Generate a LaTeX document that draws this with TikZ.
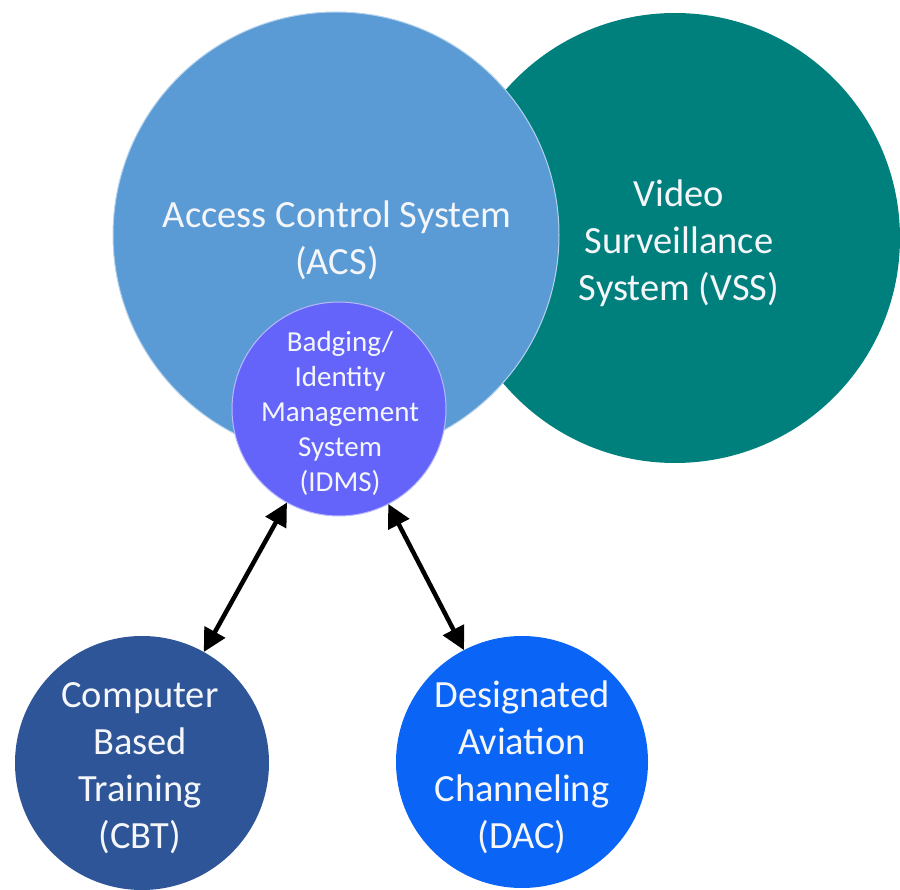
\documentclass[tikz,border=0pt]{standalone}
\usepackage{fontspec}
\setmainfont{Carlito}
\usetikzlibrary{arrows.meta}
\definecolor{acsblue}{HTML}{5B9BD5}
\definecolor{vssteal}{HTML}{00807D}
\definecolor{idmsviolet}{HTML}{6464FA}
\definecolor{cbtblue}{HTML}{2E5597}
\definecolor{dacblue}{HTML}{0A64F5}
\definecolor{labelwhite}{HTML}{F4F6FA}
\begin{document}
\begin{tikzpicture}[x=1pt,y=-1pt,
  bubble/.style={circle, inner sep=0pt, outer sep=0pt},
  caption/.style={inner sep=0pt, text=labelwhite, align=center},
  bigtext/.style={font=\fontsize{38.5}{47}\selectfont},
  smalltext/.style={font=\fontsize{29}{35}\selectfont},
  link/.style={line width=4.5pt, draw=black,
    {Triangle[length=23pt,width=23pt]}-{Triangle[length=23pt,width=23pt]}}]
\useasboundingbox (0,0) rectangle (900,890);
\node[bubble, fill=vssteal, minimum size=450pt] (vss) at (675,238) {};
\node[bubble, fill=acsblue, draw=white!55!acsblue, line width=1pt, minimum size=446pt] (acs) at (336,235) {};
\node[bubble, fill=idmsviolet, draw=white!55!idmsviolet, line width=1pt, minimum size=214pt] (idms) at (339,409) {};
\node[bubble, fill=cbtblue, minimum size=254pt] (cbt) at (142,763) {};
\node[bubble, fill=dacblue, minimum size=252pt] (dac) at (522,762) {};
\node[caption, bigtext] (vsstext) at (679,243) {Video\\Surveillance\\System (VSS)};
\node[caption, bigtext] (acstext) at (337,240) {Access Control System\\(ACS)};
\node[caption, smalltext] (idmstext) at (340,413) {Badging/\\Identity\\Management\\System\\(IDMS)};
\node[caption, bigtext] (cbttext) at (140,768) {Computer\\Based\\Training\\(CBT)};
\node[caption, bigtext] (dactext) at (522,767) {Designated\\Aviation\\Channeling\\(DAC)};
\draw[link] (idms) -- (cbt);
\draw[link] (idms) -- (dac);
\end{tikzpicture}
\end{document}
